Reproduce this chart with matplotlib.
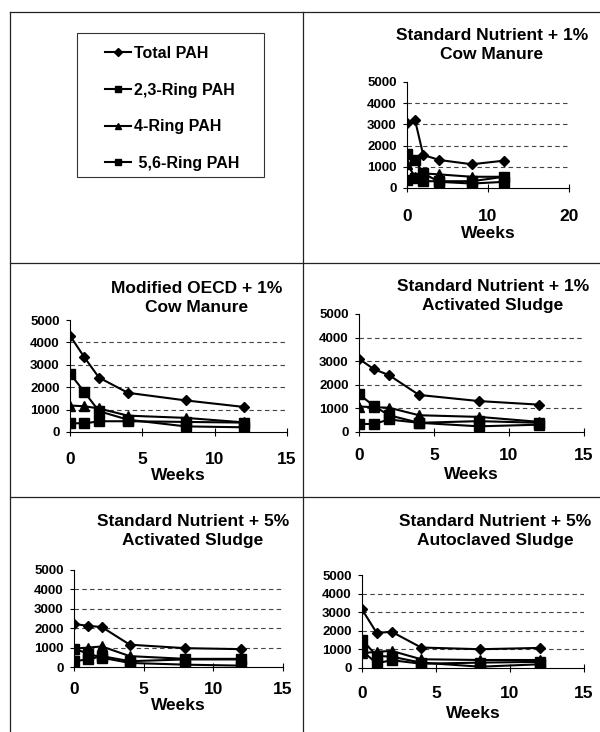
import matplotlib
matplotlib.use('Agg')
import matplotlib.pyplot as plt
from matplotlib.lines import Line2D
from matplotlib.patches import Rectangle

plt.rcParams['font.family'] = ['Liberation Sans', 'DejaVu Sans']
plt.rcParams['font.weight'] = 'bold'

W, H = 600, 732

weeks = [0, 1, 2, 4, 8, 12]
series_names = ['Total PAH', '2,3-Ring PAH', '4-Ring PAH', ' 5,6-Ring PAH']

# Standard Nutrient + 1% Cow Manure
sn_cm_total = [3080, 3190, 1560, 1320, 1120, 1290]
sn_cm_ring23 = [1590, 1320, 690, 290, 210, 290]
sn_cm_ring4 = [1120, 530, 690, 640, 530, 530]
sn_cm_ring56 = [370, 450, 320, 320, 320, 530]

# Modified OECD + 1% Cow Manure
oecd_total = [4300, 3330, 2430, 1750, 1410, 1120]
oecd_ring23 = [2610, 1780, 930, 550, 250, 210]
oecd_ring4 = [1180, 1150, 1050, 730, 630, 430]
oecd_ring56 = [400, 380, 480, 480, 450, 420]

# Standard Nutrient + 1% Activated Sludge
sn_as1_total = [3100, 2660, 2410, 1570, 1310, 1160]
sn_as1_ring23 = [1600, 1100, 710, 390, 240, 310]
sn_as1_ring4 = [1080, 1050, 1030, 710, 640, 430]
sn_as1_ring56 = [340, 340, 530, 390, 460, 390]

# Standard Nutrient + 5% Activated Sludge
sn_as5_total = [2220, 2120, 2060, 1150, 970, 920]
sn_as5_ring23 = [950, 690, 480, 210, 120, 70]
sn_as5_ring4 = [950, 1000, 1060, 560, 420, 420]
sn_as5_ring56 = [300, 390, 560, 300, 390, 390]

# Standard Nutrient + 5% Autoclaved Sludge
sn_acs_total = [3150, 1880, 1950, 1100, 1010, 1080]
sn_acs_ring23 = [1520, 650, 610, 290, 70, 200]
sn_acs_ring4 = [800, 870, 920, 470, 430, 430]
sn_acs_ring56 = [920, 250, 420, 230, 290, 330]

y_ticks = [0, 1000, 2000, 3000, 4000, 5000]
grid_vals = [1000, 2000, 3000, 4000]

markers = ['D', 's', '^', 's']
msizes = [5, 7, 7, 7]


def fx(px):
    return px / W


def fy(py):
    return 1 - py / H


fig = plt.figure(figsize=(6, 7.32), dpi=100)

# panel frame lines
for x0, y0, x1, y1 in [(10, 12, 600, 12), (10, 12, 10, 732), (303, 12, 303, 732),
                       (10, 263, 600, 263), (10, 497, 600, 497)]:
    fig.add_artist(Line2D([fx(x0), fx(x1)], [fy(y0), fy(y1)], color='#222222', lw=0.9))

# (left, right, top, bottom) in pixels, xmax, title, title center x, title y, tick y, weeks y
panels = [
    ((407, 569, 82, 188), 20, 'Standard Nutrient + 1%\nCow Manure', 492, 45, 216, 233,
     [sn_cm_total, sn_cm_ring23, sn_cm_ring4, sn_cm_ring56]),
    ((70, 287, 320, 432), 15, 'Modified OECD + 1%\nCow Manure', 197, 298, 459, 476,
     [oecd_total, oecd_ring23, oecd_ring4, oecd_ring56]),
    ((359, 584, 314, 432), 15, 'Standard Nutrient + 1%\nActivated Sludge', 493, 296, 455, 474,
     [sn_as1_total, sn_as1_ring23, sn_as1_ring4, sn_as1_ring56]),
    ((74, 283, 570, 667), 15, 'Standard Nutrient + 5%\nActivated Sludge', 193, 531, 689, 706,
     [sn_as5_total, sn_as5_ring23, sn_as5_ring4, sn_as5_ring56]),
    ((362, 584, 575, 668), 15, 'Standard Nutrient + 5%\nAutoclaved Sludge', 495, 531, 693, 713,
     [sn_acs_total, sn_acs_ring23, sn_acs_ring4, sn_acs_ring56]),
]

handles = None
for (l, r, t, b), xmax, title, tcx, tcy, tick_y, weeks_y, data in panels:
    ax = fig.add_axes([fx(l), fy(b), (r - l) / W, (b - t) / H])
    for vals, mk, ms, name in zip(data, markers, msizes, series_names):
        ax.plot(weeks, vals, color='black', lw=1.5, marker=mk, ms=ms, label=name)
    for g in grid_vals:
        ax.axhline(g, color='#444444', lw=0.8, ls=(0, (4, 3)), zorder=0)
    ax.set_xlim(0, xmax)
    ax.set_ylim(0, 5000)
    ax.set_yticks(y_ticks)
    ax.set_yticklabels([str(v) for v in y_ticks], fontsize=9.5, fontweight='bold')
    ax.set_xticks(list(range(0, xmax + 1, 5 if xmax == 15 else 10)))
    pad_pt = (tick_y - b - 11) * 72 / 100
    ax.tick_params(axis='x', direction='inout', length=6, width=0.8,
                   pad=pad_pt, labelsize=12.5)
    ax.tick_params(axis='y', direction='out', length=3, width=0.8, pad=4.5)
    for lab in ax.get_xticklabels():
        lab.set_fontweight('bold')
    ax.spines['top'].set_visible(False)
    ax.spines['right'].set_visible(False)
    ax.spines['left'].set_linewidth(0.8)
    ax.spines['bottom'].set_linewidth(0.8)
    ax.patch.set_alpha(0)
    fig.text(fx(tcx), fy(tcy), title, ha='center', va='center', fontsize=12.5,
             fontweight='bold', linespacing=1.3)
    fig.text(fx((l + r) / 2), fy(weeks_y), 'Weeks', ha='center', va='center',
             fontsize=12.5, fontweight='bold')
    handles = ax.get_legend_handles_labels()

# legend box
fig.add_artist(Rectangle((fx(77), fy(177)), fx(264) - fx(77), fy(33) - fy(177),
                         transform=fig.transFigure, fill=False, edgecolor='#333333', lw=0.8))
leg = fig.legend(handles[0], handles[1], loc='upper left',
                 bbox_to_anchor=(fx(105), fy(46)), frameon=False,
                 prop={'weight': 'bold', 'size': 11.5},
                 handlelength=1.6, handletextpad=0.2, labelspacing=1.35,
                 borderpad=0, borderaxespad=0)
for h in leg.legend_handles:
    h.set_markersize(4)

fig.savefig('out.png', dpi=100)
